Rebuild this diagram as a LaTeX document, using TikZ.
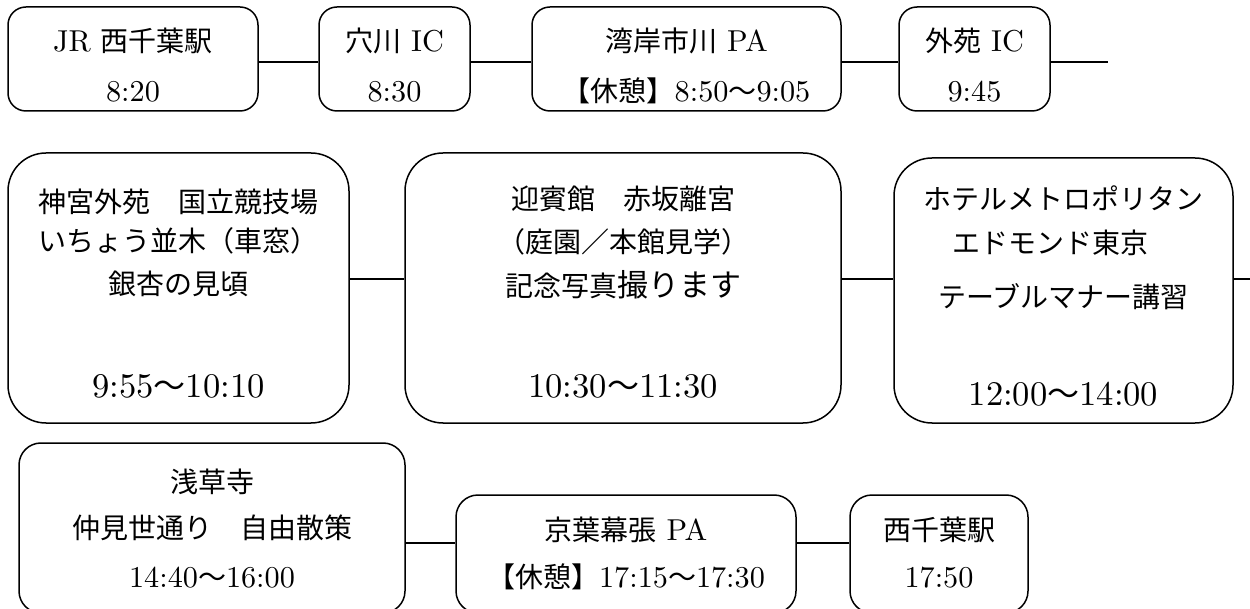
\documentclass[tikz,border=0pt]{standalone}
\usepackage{fontspec}
\setmainfont{lmroman10-regular.otf}[Scale=1.08]
\newfontfamily\cjkfont{Noto Sans CJK JP}
\newcommand\jt[1]{{\cjkfont #1}}
\begin{document}
\begin{tikzpicture}[x=1pt,y=-1pt,line width=1.5pt,
  box/.style={draw,rectangle,inner sep=0pt},
  smallbox/.style={box,rounded corners=18pt,minimum height=104pt},
  tallbox/.style={box,rounded corners=38pt},
  lowbox/.style={box,rounded corners=22pt},
  txt/.style={anchor=base,inner sep=0pt,font=\fontsize{28}{30}\selectfont},
  bigtxt/.style={anchor=base,inner sep=0pt,font=\fontsize{32}{36}\selectfont}]
\useasboundingbox (0,0) rectangle (1250,609);

% ---- row 1
\node[smallbox,minimum width=250pt] (b1) at (133,59) {};
\node[smallbox,minimum width=151pt] (b2) at (394.5,59) {};
\node[smallbox,minimum width=309pt] (b3) at (686.5,59) {};
\node[smallbox,minimum width=151pt] (b4) at (974.5,59) {};
\coordinate (e1) at (1108,62);
\draw ([yshift=-3pt]b1.east) -- ([yshift=-3pt]b2.west);
\draw ([yshift=-3pt]b2.east) -- ([yshift=-3pt]b3.west);
\draw ([yshift=-3pt]b3.east) -- ([yshift=-3pt]b4.west);
\draw ([yshift=-3pt]b4.east) -- (e1);

\node[txt] (t1a) at (133,52) {JR \jt{西千葉駅}};
\node[txt] (t1b) at (133,102) {8:20};
\node[txt] (t2a) at (394.5,52) {\jt{穴川} IC};
\node[txt] (t2b) at (394.5,102) {8:30};
\node[txt] (t3a) at (686.5,52) {\jt{湾岸市川} PA};
\node[txt] (t3b) at (686.5,102) {\jt{【休憩】}8:50\jt{〜}9:05};
\node[txt] (t4a) at (974.5,52) {\jt{外苑} IC};
\node[txt] (t4b) at (974.5,102) {9:45};

% ---- row 2
\node[tallbox,minimum width=341pt,minimum height=270pt] (ba) at (178.5,288) {};
\node[tallbox,minimum width=436pt,minimum height=270pt] (bb) at (623,288) {};
\node[tallbox,minimum width=339pt,minimum height=265pt] (bc) at (1063.5,290.5) {};
\coordinate (e2) at (1250,279);
\draw ([yshift=9pt]ba.east) -- ([yshift=9pt]ba.east -| bb.west);
\draw ([yshift=9pt]bb.east) -- ([yshift=9pt]bb.east -| bc.west);
\draw (bc.east |- e2) -- (e2);

\node[txt] (ta1) at (178.5,213) {\jt{神宮外苑　国立競技場}};
\node[txt] (ta2) at (178.5,252) {\jt{いちょう並木（車窓）}};
\node[txt] (ta3) at (178.5,295) {\jt{銀杏の見頃}};
\node[bigtxt] (ta4) at (178.5,398) {9:55\jt{〜}10:10};

\node[txt] (tb1) at (623,210) {\jt{迎賓館　赤坂離宮}};
\node[txt] (tb2) at (623,253) {\jt{（庭園／本館見学）}};
\node[txt] (tb3) at (623,297) {\jt{記念写真{\fontsize{31}{34}\selectfont 撮ります}}};
\node[bigtxt] (tb4) at (623,398) {10:30\jt{〜}11:30};

\node[txt] (tc1) at (1063.5,210) {\jt{ホテルメトロポリタン}};
\node[txt] (tc2) at (1050,254) {\jt{エドモンド東京}};
\node[txt] (tc3) at (1063.5,308) {\jt{テーブルマナー講習}};
\node[bigtxt] (tc4) at (1063.5,406) {12:00\jt{〜}14:00};

% ---- row 3
\node[lowbox,minimum width=386pt,minimum height=170pt] (bd) at (212,528) {};
\node[lowbox,minimum width=340pt,minimum height=118pt] (be) at (626,554) {};
\node[lowbox,minimum width=178pt,minimum height=118pt] (bf) at (939,554) {};
\draw ([yshift=-15pt]bd.east) -- ([yshift=-15pt]bd.east -| be.west);
\draw ([yshift=-15pt]bd.east -| be.east) -- ([yshift=-15pt]bd.east -| bf.west);

\node[txt] (td1) at (212,492) {\jt{浅草寺}};
\node[txt] (td2) at (212,538) {\jt{仲見世通り　自由散策}};
\node[txt] (td3) at (212,587) {14:40\jt{〜}16:00};
\node[txt] (te1) at (626,540) {\jt{京葉幕張} PA};
\node[txt] (te2) at (626,587) {\jt{【休憩】}17:15\jt{〜}17:30};
\node[txt] (tf1) at (939,540) {\jt{西千葉駅}};
\node[txt] (tf2) at (939,587) {17:50};
\end{tikzpicture}
\end{document}
